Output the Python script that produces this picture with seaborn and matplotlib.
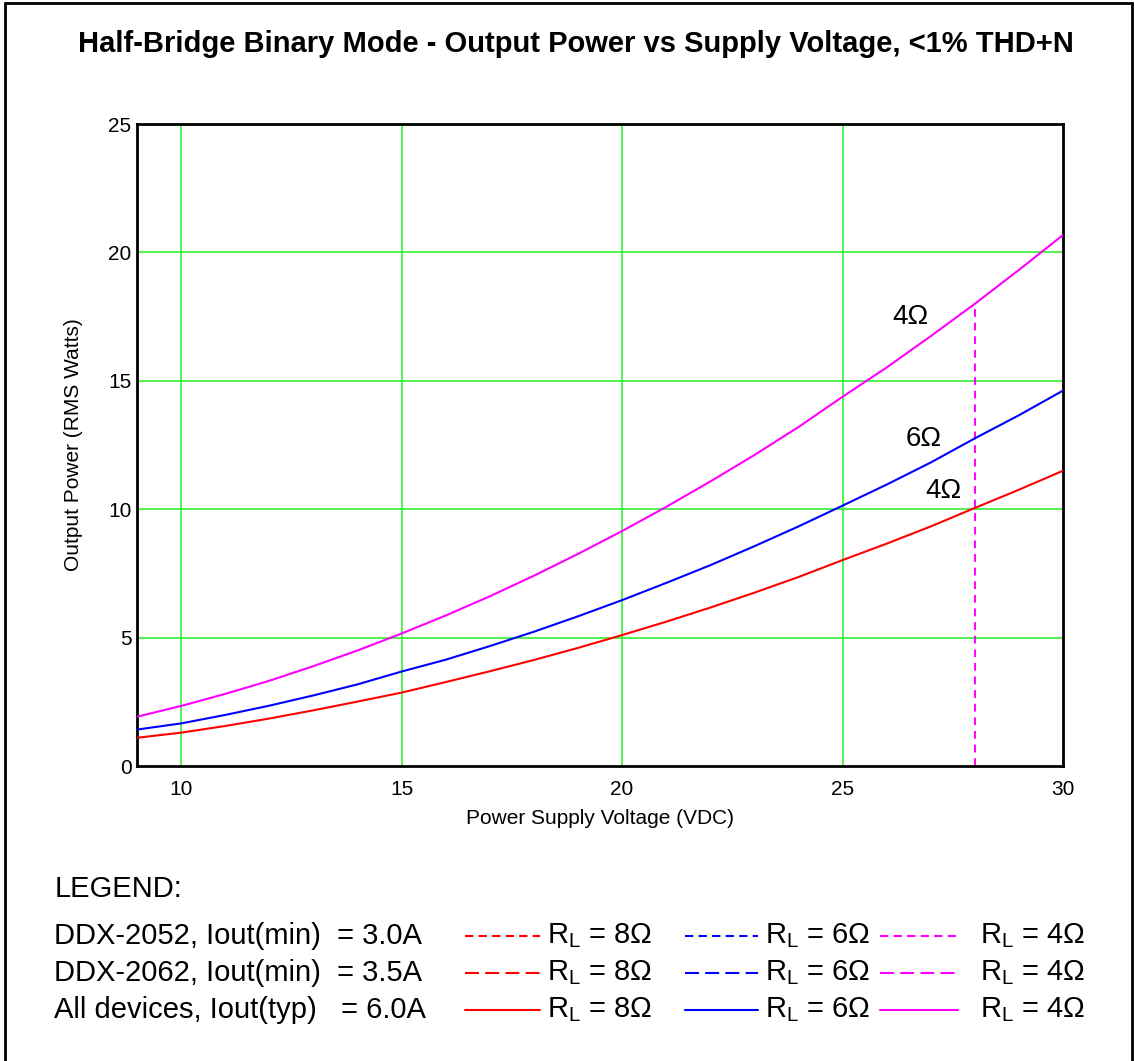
import numpy as np
import pandas as pd
import seaborn as sns
import matplotlib.pyplot as plt
from matplotlib.lines import Line2D
from matplotlib.patches import Rectangle

# Data
voltage = [9, 10, 11, 12, 13, 14, 15, 16, 17, 18, 19, 20,
           21, 22, 23, 24, 25, 26, 27, 28, 29, 30]
power_8ohm = [1.10, 1.30, 1.56, 1.85, 2.17, 2.51, 2.86, 3.27, 3.69, 4.13, 4.60, 5.10,
              5.62, 6.17, 6.75, 7.36, 8.02, 8.66, 9.33, 10.05, 10.76, 11.50]
power_6ohm = [1.42, 1.66, 1.99, 2.35, 2.75, 3.18, 3.68, 4.14, 4.67, 5.23, 5.83, 6.46,
              7.13, 7.82, 8.56, 9.33, 10.14, 10.96, 11.82, 12.76, 13.66, 14.62]
power_4ohm = [1.92, 2.34, 2.81, 3.32, 3.89, 4.50, 5.16, 5.86, 6.61, 7.41, 8.26, 9.15,
              10.09, 11.08, 12.11, 13.20, 14.38, 15.52, 16.74, 18.00, 19.32, 20.68]

xticks = [10, 15, 20, 25, 30]
yticks = [0, 5, 10, 15, 20, 25]

title = "Half-Bridge Binary Mode - Output Power vs Supply Voltage, <1% THD+N"

legend_rows = ["DDX-2052, Iout(min)  = 3.0A",
               "DDX-2062, Iout(min)  = 3.5A",
               "All devices, Iout(typ)   = 6.0A"]
legend_labels = ["R$_\\mathregular{L}$ = 8\u03a9", "R$_\\mathregular{L}$ = 6\u03a9", "R$_\\mathregular{L}$ = 4\u03a9"]
legend_colors = ["#ff0000", "#0000ff", "#ff00ff"]

sns.set_style("white")
plt.rcParams['font.family'] = ['Liberation Sans', 'DejaVu Sans']
plt.rcParams['mathtext.default'] = 'regular'
plt.rcParams['text.color'] = 'black'
plt.rcParams['axes.labelcolor'] = 'black'
plt.rcParams['xtick.color'] = 'black'
plt.rcParams['ytick.color'] = 'black'

fig = plt.figure(figsize=(11.35, 10.61), dpi=100)
ax = fig.add_axes([0.1207, 0.278, 0.8159, 0.6051])

df = pd.DataFrame({"V": voltage, "P8": power_8ohm, "P6": power_6ohm, "P4": power_4ohm})

# Grid lines
for x in [10, 15, 20, 25]:
    ax.axvline(x, color="#22ee22", lw=1.1, zorder=1)
for y in [5, 10, 15, 20]:
    ax.axhline(y, color="#22ee22", lw=1.1, zorder=1)

# Curves
sns.lineplot(data=df, x="V", y="P8", color="#ff0000", lw=1.5, ax=ax, zorder=3)
sns.lineplot(data=df, x="V", y="P6", color="#0000ff", lw=1.5, ax=ax, zorder=3)
sns.lineplot(data=df, x="V", y="P4", color="#ff00ff", lw=1.5, ax=ax, zorder=3)

# Dashed marker at 28 V
ax.plot([28, 28], [0, power_4ohm[voltage.index(28)]], color="#ff00ff",
        lw=1.4, ls=(0, (4, 3)), zorder=2)

ax.text(26.55, 17.5, "4\u03a9", fontsize=20, ha="center", va="center")
ax.text(26.85, 12.75, "6\u03a9", fontsize=20, ha="center", va="center")
ax.text(27.3, 10.7, "4\u03a9", fontsize=20, ha="center", va="center")

ax.set_xlim(9, 30)
ax.set_ylim(0, 25)
ax.set_xticks(xticks)
ax.set_yticks(yticks)
ax.tick_params(axis="both", length=0, labelsize=15)
ax.tick_params(axis="x", pad=10)
ax.tick_params(axis="y", pad=4)
for s in ax.spines.values():
    s.set_color("black")
    s.set_linewidth(2)
    s.set_visible(True)

ax.set_xlabel("Power Supply Voltage (VDC)", fontsize=15, labelpad=7)
ax.set_ylabel("Output Power (RMS Watts)", fontsize=15, labelpad=18)

fig.text(0.507, 0.9585, title, fontsize=21, fontweight="bold", ha="center", va="center")

# Figure border
fig.add_artist(Rectangle((0.004, -0.05), 0.993, 1.047, transform=fig.transFigure,
                         fill=False, edgecolor="black", lw=2, clip_on=False))

# Legend block
fig.text(0.048, 1 - 889 / 1061, "LEGEND:", fontsize=21, va="center", ha="left")
row_y = [936, 973, 1010]
dash_styles = [(0, (4, 2.5)), (0, (6.7, 3)), "-"]
line_x = [(465, 540), (685, 758), (880, 958)]
text_x = [547, 765, 980]
for r, (label, yy) in enumerate(zip(legend_rows, row_y)):
    yf = 1 - yy / 1061
    fig.text(0.048, yf, label, fontsize=21, va="center", ha="left")
    for c in range(3):
        x0, x1 = line_x[c]
        fig.add_artist(Line2D([x0 / 1135, x1 / 1135], [yf, yf], transform=fig.transFigure,
                              color=legend_colors[c], lw=1.5, ls=dash_styles[r]))
        fig.text(text_x[c] / 1135, yf, legend_labels[c], fontsize=21, va="center", ha="left")

fig.savefig("out.png", dpi=100)
